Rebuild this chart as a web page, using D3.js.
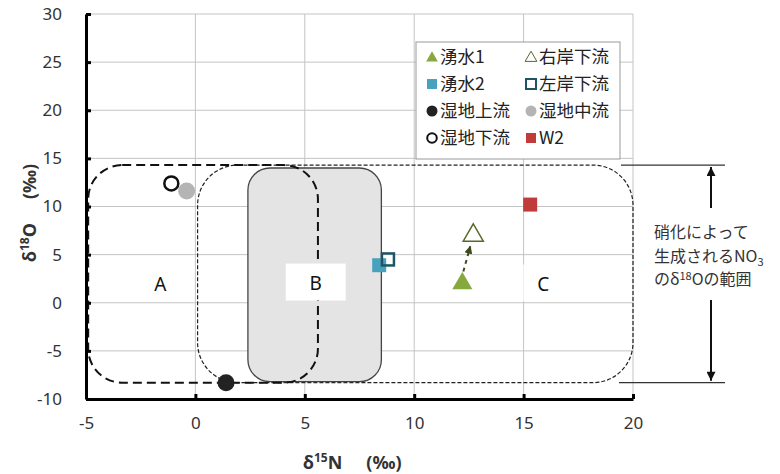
<!DOCTYPE html>
<html>
<head>
<meta charset="utf-8">
<script src="https://cdn.jsdelivr.net/npm/d3@7"></script>
<style>
  body { margin: 0; background: #fff; }
  svg { font-family: "Noto Sans", "Noto Sans CJK JP", sans-serif; }
</style>
</head>
<body>
<svg width="780" height="474"></svg>
<script>
// values
const xTicks = [-5, 0, 5, 10, 15, 20];
const yTicks = [-10, -5, 0, 5, 10, 15, 20, 25, 30];

const names = ["湧水1", "右岸下流", "湧水2", "左岸下流", "湿地上流", "湿地中流", "湿地下流", "W2"];
const xVals = [12.2, 12.7, 8.4, 8.8, 1.4, -0.4, -1.1, 15.3];
const yVals = [2.0, 7.0, 3.9, 4.5, -8.3, 11.6, 12.4, 10.2];

const regionNames = ["A", "B", "C"];
const regionX = [[-4.9, 5.6], [2.4, 8.5], [0.1, 20]];
const regionY = [[-8.3, 14.3], [-8.2, 14.0], [-8.3, 14.3]];
const regionLabelAt = [[-1.6, 2.0], [5.5, 2.1], [15.9, 2.0]];

const rangeO18 = [-8.3, 14.3];

// marker styles by series
const style = {
  "湧水1":   {shape: "tri", fill: "#86a83c", stroke: "none"},
  "右岸下流": {shape: "tri", fill: "#fff", stroke: "#58682a"},
  "湧水2":   {shape: "sq", fill: "#48a2bd", stroke: "none"},
  "左岸下流": {shape: "sq", fill: "none", stroke: "#1d5566"},
  "湿地上流": {shape: "ci", fill: "#222", stroke: "none"},
  "湿地中流": {shape: "ci", fill: "#b4b4b4", stroke: "none"},
  "湿地下流": {shape: "ci", fill: "#fff", stroke: "#111"},
  "W2":      {shape: "sq", fill: "#c23b3b", stroke: "none"}
};

let svg = d3.select("svg");

let xScale = d3.scaleLinear().domain([-5, 20]).range([86, 633]);
let yScale = d3.scaleLinear().domain([-10, 30]).range([399, 14]);

// grid
svg.append("g").selectAll("line")
    .data(yTicks)
    .enter().append("line")
    .attr("x1", xScale(-5)).attr("x2", xScale(20))
    .attr("y1", d => yScale(d)).attr("y2", d => yScale(d))
    .attr("stroke", "#c4c4c4").attr("stroke-width", 1);
svg.append("g").selectAll("line")
    .data(xTicks)
    .enter().append("line")
    .attr("x1", d => xScale(d)).attr("x2", d => xScale(d))
    .attr("y1", yScale(30)).attr("y2", yScale(-10))
    .attr("stroke", "#c4c4c4").attr("stroke-width", 1);

// regions
let rect = (i) => ({
    x: xScale(regionX[i][0]),
    y: yScale(regionY[i][1]),
    w: xScale(regionX[i][1]) - xScale(regionX[i][0]),
    h: yScale(regionY[i][0]) - yScale(regionY[i][1])
});

let rc = rect(2);
svg.append("rect")
    .attr("x", rc.x).attr("y", rc.y).attr("width", rc.w).attr("height", rc.h)
    .attr("rx", 40).attr("ry", 40)
    .attr("fill", "none").attr("stroke", "#222").attr("stroke-width", 1.2)
    .attr("stroke-dasharray", "4,2");

let rb = rect(1);
svg.append("rect")
    .attr("x", rb.x).attr("y", rb.y).attr("width", rb.w).attr("height", rb.h)
    .attr("rx", 22).attr("ry", 22)
    .attr("fill", "#e4e4e4").attr("stroke", "#444").attr("stroke-width", 1.3);

let ra = rect(0);
svg.append("rect")
    .attr("x", ra.x).attr("y", ra.y).attr("width", ra.w).attr("height", ra.h)
    .attr("rx", 34).attr("ry", 34)
    .attr("fill", "none").attr("stroke", "#111").attr("stroke-width", 2)
    .attr("stroke-dasharray", "9,5");

// region labels with white boxes
regionNames.forEach((n, i) => {
    let cx = xScale(regionLabelAt[i][0]);
    let cy = yScale(regionLabelAt[i][1]);
    let bw = n == "B" ? 60 : 40;
    svg.append("rect")
        .attr("x", cx - bw / 2).attr("y", cy - 19).attr("width", bw).attr("height", 37)
        .attr("fill", "#fff");
    svg.append("text")
        .attr("x", cx).attr("y", cy + 7)
        .attr("text-anchor", "middle")
        .attr("font-size", 19)
        .attr("fill", "#111")
        .text(n);
});

// axes
let xAxis = d3.axisBottom(xScale).tickValues(xTicks).tickFormat(d => String(d))
    .tickSizeInner(-5).tickSizeOuter(0).tickPadding(18);
let gx = svg.append("g")
    .attr("transform", "translate(0," + yScale(-10) + ")")
    .call(xAxis);
let yAxis = d3.axisLeft(yScale).tickValues(yTicks).tickFormat(d => String(d))
    .tickSizeInner(-5).tickSizeOuter(0).tickPadding(24);
let gy = svg.append("g")
    .attr("transform", "translate(" + xScale(-5) + ",0)")
    .call(yAxis);
[gx, gy].forEach(g => {
    g.select(".domain").attr("stroke", "#000").attr("stroke-width", 3);
    g.selectAll(".tick line").attr("stroke", "#000").attr("stroke-width", 3);
    g.selectAll(".tick text")
        .attr("font-size", 17)
        .attr("fill", "#333")
        .attr("font-family", "Noto Sans, sans-serif");
});

// arrow between 湧水1 and 右岸下流
svg.append("defs").append("marker")
    .attr("id", "ah")
    .attr("viewBox", "0 0 10 10")
    .attr("refX", 9).attr("refY", 5)
    .attr("markerWidth", 4).attr("markerHeight", 4)
    .attr("orient", "auto")
    .append("path").attr("d", "M0,0L10,5L0,10Z").attr("fill", "#3e4a1c");

svg.append("line")
    .attr("x1", xScale(xVals[0]) + 1).attr("y1", yScale(yVals[0]) - 12)
    .attr("x2", xScale(xVals[1]) - 3).attr("y2", yScale(yVals[1]) + 11)
    .attr("stroke", "#3e4a1c").attr("stroke-width", 2)
    .attr("stroke-dasharray", "4,4")
    .attr("marker-end", "url(#ah)");

// points
let drawMark = (g, shape, cx, cy, st) => {
    if (shape == "tri") {
        g.append("path")
            .attr("d", d3.symbol().type(d3.symbolTriangle).size(175)())
            .attr("transform", "translate(" + cx + "," + cy + ")")
            .attr("fill", st.fill).attr("stroke", st.stroke).attr("stroke-width", 1.5);
    } else if (shape == "sq") {
        let s = st.fill == "none" ? 12 : 14;
        g.append("rect")
            .attr("x", cx - s / 2).attr("y", cy - s / 2).attr("width", s).attr("height", s)
            .attr("fill", st.fill).attr("stroke", st.stroke).attr("stroke-width", 2.5);
    } else {
        g.append("circle")
            .attr("cx", cx).attr("cy", cy).attr("r", st.stroke == "none" ? 8.5 : 7)
            .attr("fill", st.fill).attr("stroke", st.stroke).attr("stroke-width", 2.5);
    }
};

let pts = svg.append("g");
names.forEach((n, i) => {
    let st = style[n];
    drawMark(pts, st.shape, xScale(xVals[i]), yScale(yVals[i]), st);
});

// legend
let lg = svg.append("g").attr("transform", "translate(416,42)");
lg.append("rect")
    .attr("width", 204).attr("height", 117)
    .attr("fill", "#fff").attr("stroke", "#999").attr("stroke-width", 1);
let legOrder = [["湧水1", "右岸下流"], ["湧水2", "左岸下流"], ["湿地上流", "湿地中流"], ["湿地下流", "W2"]];
legOrder.forEach((row, r) => {
    row.forEach((n, c) => {
        let st = style[n];
        let mx = 16 + c * 99;
        let my = 15 + r * 27;
        if (st.shape == "tri") {
            lg.append("path")
                .attr("d", d3.symbol().type(d3.symbolTriangle).size(60)())
                .attr("transform", "translate(" + mx + "," + (my + 1) + ")")
                .attr("fill", st.fill).attr("stroke", st.stroke).attr("stroke-width", 1);
        } else if (st.shape == "sq") {
            lg.append("rect")
                .attr("x", mx - 5).attr("y", my - 5).attr("width", 10).attr("height", 10)
                .attr("fill", st.fill).attr("stroke", st.stroke).attr("stroke-width", 2);
        } else {
            lg.append("circle")
                .attr("cx", mx).attr("cy", my).attr("r", st.stroke == "none" ? 5.5 : 4.8)
                .attr("fill", st.fill).attr("stroke", st.stroke).attr("stroke-width", 2);
        }
        lg.append("text")
            .attr("x", mx + 8).attr("y", my + 6)
            .attr("font-size", 17.5)
            .attr("fill", "#222")
            .attr("font-family", "Noto Sans CJK JP, sans-serif")
            .text(n);
    });
});

// right annotation: range of δ18O of nitrate formed by nitrification
let yTop = yScale(rangeO18[1]);
let yBot = yScale(rangeO18[0]);
svg.append("line").attr("x1", 621).attr("x2", 725).attr("y1", yTop).attr("y2", yTop)
    .attr("stroke", "#333").attr("stroke-width", 1.3);
svg.append("line").attr("x1", 619).attr("x2", 725).attr("y1", yBot).attr("y2", yBot)
    .attr("stroke", "#333").attr("stroke-width", 1.3);
svg.append("defs").append("marker")
    .attr("id", "ah2")
    .attr("viewBox", "0 0 10 10")
    .attr("refX", 10).attr("refY", 5)
    .attr("markerWidth", 5).attr("markerHeight", 4.5)
    .attr("markerUnits", "strokeWidth")
    .attr("orient", "auto-start-reverse")
    .append("path").attr("d", "M0,0L10,5L0,10Z").attr("fill", "#111");
svg.append("line")
    .attr("x1", 711).attr("x2", 711)
    .attr("y1", yTop + 2).attr("y2", yBot - 2)
    .attr("stroke", "#111").attr("stroke-width", 2)
    .attr("marker-start", "url(#ah2)")
    .attr("marker-end", "url(#ah2)");
svg.append("rect")
    .attr("x", 642).attr("y", 208).attr("width", 126).attr("height", 92)
    .attr("fill", "#fff");
let ann = svg.append("text")
    .attr("font-size", 16)
    .attr("fill", "#333")
    .attr("font-family", "Noto Sans CJK JP, sans-serif");
ann.append("tspan").attr("x", 654).attr("y", 238).text("硝化によって");
ann.append("tspan").attr("x", 654).attr("y", 262).text("生成されるNO");
ann.append("tspan").attr("dy", 4).attr("font-size", 11).text("3");
ann.append("tspan").attr("x", 654).attr("y", 285).text("のδ");
ann.append("tspan").attr("dy", -5).attr("font-size", 11).text("18");
ann.append("tspan").attr("dy", 5).text("Oの範囲");

// axis titles
let xt = svg.append("text")
    .attr("x", 303).attr("y", 469)
    .attr("font-size", 18).attr("font-weight", "bold").attr("fill", "#333");
xt.append("tspan").text("δ");
xt.append("tspan").attr("dy", -7).attr("font-size", 12).text("15");
xt.append("tspan").attr("dy", 7).text("N");
xt.append("tspan").attr("dx", 24).text("(‰)");

let yt = svg.append("text")
    .attr("transform", "translate(36,262) rotate(-90)")
    .attr("font-size", 18).attr("font-weight", "bold").attr("fill", "#333");
yt.append("tspan").text("δ");
yt.append("tspan").attr("dy", -7).attr("font-size", 12).text("18");
yt.append("tspan").attr("dy", 7).text("O");
yt.append("tspan").attr("dx", 24).text("(‰)");
</script>
</body>
</html>
